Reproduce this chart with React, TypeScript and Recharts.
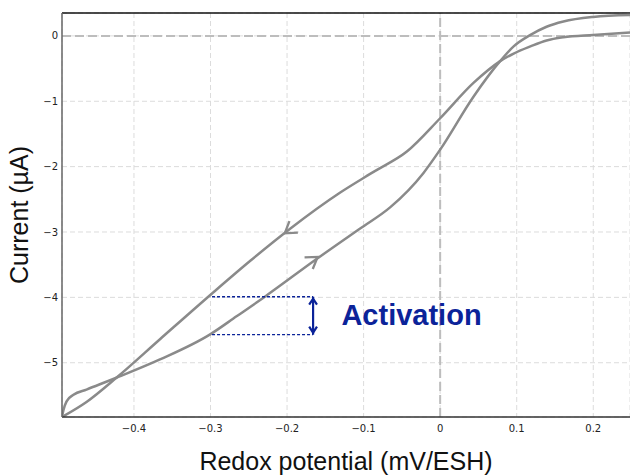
import { LineChart, Line, XAxis, YAxis, CartesianGrid, ReferenceLine, ReferenceDot } from 'recharts';

// forward scan (lower branch in the middle, arrow pointing up-right)
const forwardX = [-0.494, -0.492, -0.488, -0.479, -0.462, -0.423, -0.366, -0.301, -0.266, -0.229, -0.161, -0.105, -0.065, -0.022, 0, 0.0435, 0.078, 0.096, 0.118, 0.139, 0.161, 0.2, 0.248];
const forwardY = [-5.83, -5.72, -5.59, -5.49, -5.41, -5.23, -4.95, -4.57, -4.29, -3.99, -3.41, -2.95, -2.62, -2.1, -1.74, -0.93, -0.39, -0.16, 0.015, 0.14, 0.22, 0.29, 0.32];

// reverse scan (upper branch in the middle, arrow pointing down-left)
const reverseX = [-0.494, -0.462, -0.423, -0.366, -0.298, -0.248, -0.196, -0.131, -0.087, -0.0435, 0, 0.0435, 0.078, 0.096, 0.118, 0.139, 0.161, 0.2, 0.248];
const reverseY = [-5.83, -5.6, -5.23, -4.64, -3.94, -3.44, -2.95, -2.4, -2.08, -1.77, -1.26, -0.72, -0.39, -0.27, -0.16, -0.07, -0.02, 0.015, 0.05];

const xTicks = [-0.4, -0.3, -0.2, -0.1, 0, 0.1, 0.2];
const yTicks = [0, -1, -2, -3, -4, -5];
const xDomain = [-0.494, 0.248];
const yDomain = [-5.83, 0.35];

// annotations
const activationX = [-0.298, -0.166];
const activationY = [-3.99, -4.57];
const activationText = 'Activation';
const activationTextPos = { x: -0.129, y: -4.42 };
const forwardArrow = { x: -0.16, y: -3.38 };
const reverseArrow = { x: -0.203, y: -3.02 };

const forward = forwardX.map((x, i) => ({ x, y: forwardY[i] }));
const reverse = reverseX.map((x, i) => ({ x, y: reverseY[i] }));

const CURVE = '#8a8a8a';
const NAVY = '#0b2399';
const TICK_FONT = 'DejaVu Sans, sans-serif';
const LABEL_FONT = 'Liberation Sans, Arial, sans-serif';

const fmt = (v: number) => String(v).replace('-', '\u2212');

function Chevron({ cx, cy, angle, color, size = 10, width = 2 }: any) {
  if (cx == null || cy == null) return null;
  return (
    <path
      d={`M${-size},${-size * 0.65} L0,0 L${-size},${size * 0.65}`}
      transform={`translate(${cx},${cy}) rotate(${angle})`}
      fill="none"
      stroke={color}
      strokeWidth={width}
      strokeLinejoin="miter"
    />
  );
}

export default function App() {
  return (
    <div style={{ position: 'absolute', left: 0, top: 0, background: '#fff' }}>
      <LineChart width={630} height={476} margin={{ top: 13, right: 0, left: 0, bottom: 0 }}>
        <CartesianGrid stroke="#dcdcdc" strokeDasharray="5 3" />
        <XAxis
          type="number"
          dataKey="x"
          domain={xDomain}
          allowDataOverflow
          ticks={xTicks}
          tickFormatter={fmt}
          tickLine={false}
          height={59}
          axisLine={{ stroke: '#333', strokeWidth: 1.5 }}
          tick={{ fontSize: 10, fill: '#222', fontFamily: TICK_FONT }}
          label={{
            content: ({ viewBox }: any) => (
              <text
                x={viewBox.x + viewBox.width / 2}
                y={viewBox.y + 53}
                textAnchor="middle"
                fontSize={25}
                fill="#111"
                fontFamily={LABEL_FONT}
              >
                Redox potential (mV/ESH)
              </text>
            ),
          }}
        />
        <YAxis
          type="number"
          dataKey="y"
          domain={yDomain}
          allowDataOverflow
          ticks={yTicks}
          tickFormatter={fmt}
          tickLine={false}
          tickSize={2}
          tickMargin={2}
          width={62}
          axisLine={{ stroke: '#666', strokeWidth: 1.5 }}
          tick={{ fontSize: 10, fill: '#222', fontFamily: TICK_FONT }}
          label={{
            content: ({ viewBox }: any) => {
              const bx = viewBox.x + 28;
              const by = viewBox.y + viewBox.height / 2;
              return (
                <text
                  x={bx}
                  y={by}
                  transform={`rotate(-90 ${bx} ${by})`}
                  textAnchor="middle"
                  fontSize={25}
                  fill="#111"
                  fontFamily={LABEL_FONT}
                >
                  Current (µA)
                </text>
              );
            },
          }}
        />
        <ReferenceLine y={0} stroke="#bdbdbd" strokeWidth={2} strokeDasharray="9 4" />
        <ReferenceLine x={0} stroke="#bdbdbd" strokeWidth={2} strokeDasharray="9 4" />
        <ReferenceLine y={yDomain[1]} stroke="#111" strokeWidth={1.5} ifOverflow="visible" />

        <Line data={forward} dataKey="y" type="monotone" stroke={CURVE} strokeWidth={2.5} dot={false} isAnimationActive={false} />
        <Line data={reverse} dataKey="y" type="monotone" stroke={CURVE} strokeWidth={2.5} dot={false} isAnimationActive={false} />

        <ReferenceDot x={forwardArrow.x} y={forwardArrow.y} shape={(p: any) => <Chevron {...p} angle={-35} color={CURVE} size={11} width={2.3} />} />
        <ReferenceDot x={reverseArrow.x} y={reverseArrow.y} shape={(p: any) => <Chevron {...p} angle={144} color={CURVE} size={11} width={2.3} />} />

        {activationY.map((yv) => (
          <ReferenceLine
            key={yv}
            segment={[{ x: activationX[0], y: yv }, { x: activationX[1], y: yv }]}
            stroke={NAVY}
            strokeWidth={1.4}
            strokeDasharray="3 2"
          />
        ))}
        <ReferenceLine
          segment={[{ x: activationX[1], y: activationY[0] }, { x: activationX[1], y: activationY[1] }]}
          stroke={NAVY}
          strokeWidth={2.2}
        />
        <ReferenceDot x={activationX[1]} y={activationY[0]} shape={(p: any) => <Chevron {...p} cy={p.cy + 2} angle={-90} color={NAVY} size={6} width={2.2} />} />
        <ReferenceDot x={activationX[1]} y={activationY[1]} shape={(p: any) => <Chevron {...p} cy={p.cy - 2} angle={90} color={NAVY} size={6} width={2.2} />} />
        <ReferenceDot
          x={activationTextPos.x}
          y={activationTextPos.y}
          shape={(p: any) => (
            <text x={p.cx} y={p.cy} fontSize={29} fontWeight="bold" fill={NAVY} fontFamily={LABEL_FONT}>
              {activationText}
            </text>
          )}
        />
      </LineChart>
    </div>
  );
}
